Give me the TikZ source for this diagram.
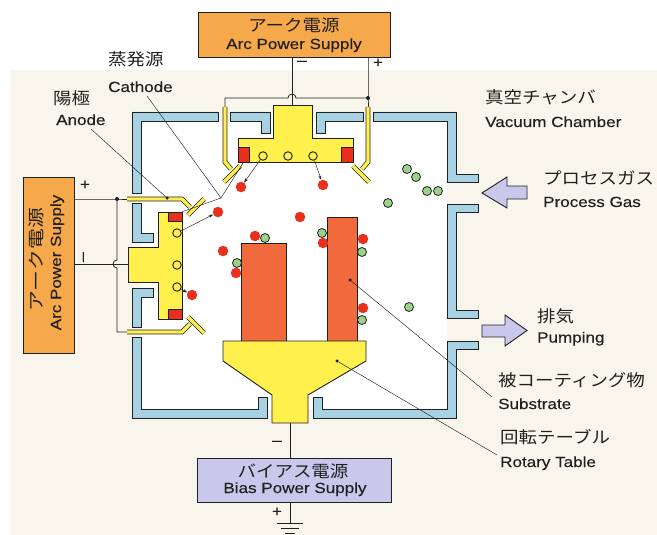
\documentclass[tikz,border=0pt]{standalone}
\usepackage{fontspec}
\setmainfont{Liberation Sans}[FakeStretch=1.16, FakeBold=0.35]
\newfontfamily\jp{Noto Sans CJK JP}[FakeStretch=1.12]
\usetikzlibrary{arrows.meta}

\definecolor{arcorange}{HTML}{F5A94A}
\definecolor{wallblue}{HTML}{A6D2E4}
\definecolor{cathyellow}{HTML}{FFF04E}
\definecolor{hotred}{HTML}{E8301C}
\definecolor{subred}{HTML}{F06A3E}
\definecolor{gasgreen}{HTML}{9CD487}
\definecolor{lav}{HTML}{C9C7EC}
\definecolor{cream}{HTML}{F8F6EC}
\definecolor{ink}{HTML}{202020}

\begin{document}
\begin{tikzpicture}[x=1pt,y=-1pt,
  wall/.style={fill=wallblue, draw=ink, line width=0.9pt},
  yel/.style={fill=cathyellow, draw=ink, line width=0.9pt},
  wire/.style={draw=ink, line width=0.8pt},
  lead/.style={draw=ink, line width=0.45pt},
  emit/.style={lead, -{Stealth[length=4.5pt,width=3pt]}},
  anodebar/.style={draw=ink, line width=0.7pt, double=cathyellow, double distance=3.4pt},
  supply/.style={draw=ink, line width=0.9pt, inner sep=0, rectangle},
  redblock/.style={rectangle, fill=hotred, draw=ink, line width=0.5pt, inner sep=0},
  redp/.style={circle, fill=hotred, minimum size=10.5pt, inner sep=0},
  greenp/.style={circle, fill=gasgreen, draw=ink, line width=0.8pt, minimum size=9pt, inner sep=0},
  spot/.style={circle, fill=cathyellow, draw=ink, line width=0.9pt, minimum size=8.5pt, inner sep=0},
  dotn/.style={circle, fill=ink, inner sep=0, minimum size=3.5pt},
  jdot/.style={circle, fill=ink, inner sep=0, minimum size=4pt},
  jptext/.style={font=\jp\fontsize{16.5}{18}\selectfont, text=ink, inner sep=0},
  entext/.style={font=\fontsize{14.7}{16}\selectfont, text=ink, inner sep=0},
  signtext/.style={font=\fontsize{15}{16}\selectfont, text=ink, inner sep=0},
  flow/.style={fill=lav, draw=ink, line width=0.9pt, line join=miter}
]
\useasboundingbox (0,0) rectangle (657,535);

% backdrop and chamber interior
\fill[cream] (10,70) rectangle (657,535);
\fill[white] (141,121) rectangle (447,409);

% chamber walls
\filldraw[wall] (132,112) -- (218,112) -- (218,121) -- (141,121) -- (141,193) -- (132,193) -- cycle;
\filldraw[wall] (230,112) -- (270,112) -- (270,133) -- (261,133) -- (261,121) -- (230,121) -- cycle;
\filldraw[wall] (316,112) -- (363,112) -- (363,121) -- (325,121) -- (325,133) -- (316,133) -- cycle;
\filldraw[wall] (373,112) -- (456,112) -- (456,174) -- (478,174) -- (478,182) -- (447,182) -- (447,121) -- (373,121) -- cycle;
\filldraw[wall] (447,204) -- (478,204) -- (478,212) -- (456,212) -- (456,310) -- (478,310) -- (478,318) -- (447,318) -- cycle;
\filldraw[wall] (447,341) -- (478,341) -- (478,349) -- (456,349) -- (456,418) -- (313,418) -- (313,397) -- (322,397) -- (322,409) -- (447,409) -- cycle;
\filldraw[wall] (132,337) -- (141,337) -- (141,409) -- (258,409) -- (258,397) -- (267,397) -- (267,418) -- (132,418) -- cycle;
\filldraw[wall] (132,203) -- (141,203) -- (141,233) -- (153,233) -- (153,242) -- (132,242) -- cycle;
\filldraw[wall] (132,288) -- (153,288) -- (153,297) -- (141,297) -- (141,327) -- (132,327) -- cycle;

% gas inlet and pumping arrows
\filldraw[flow] (482,193) -- (507,177) -- (507,186) -- (527,186) -- (527,199) -- (507,199) -- (507,208) -- cycle;
\filldraw[flow] (482,325) -- (505,325) -- (505,315) -- (527,330.5) -- (505,346) -- (505,337) -- (482,337) -- cycle;

% power supplies
\node[supply, fill=arcorange, minimum width=192pt, minimum height=45pt] (arcTop) at (294,34.5) {};
\node[jptext, anchor=base] (arcTopJ) at (294,32) {アーク電源};
\node[entext, anchor=base] (arcTopE) at (294,49) {Arc Power Supply};

\node[supply, fill=arcorange, minimum width=51pt, minimum height=176pt] (arcLeft) at (48.5,265) {};
\node[jptext, anchor=base, rotate=90] (arcLeftJ) at (42,259.5) {\scalebox{1.13}[1]{アーク電源}};
\node[entext, anchor=base, rotate=90] (arcLeftE) at (61,262.5) {Arc Power Supply};

\node[supply, fill=lav, minimum width=194pt, minimum height=44pt] (bias) at (294,480) {};
\node[jptext, anchor=base] (biasJ) at (293,477) {バイアス電源};
\node[entext, anchor=base] (biasE) at (295,493) {Bias Power Supply};

% wiring points
\coordinate (jTop) at (368,98);
\coordinate (aTL) at (225,98);
\coordinate (tcTop) at (292,105);
\coordinate (jL) at (117,199);
\coordinate (aL1) at (127,199);
\coordinate (aL2) at (127,332);
\coordinate (lcTip) at (128,264);
\coordinate (neckB) at (290,423);
\coordinate (gnd) at (290,523);

% top arc supply wiring
\draw[wire] (arcTop.south -| tcTop) -- (tcTop);
\draw[wire] (arcTop.south -| jTop) -- (jTop) -- (368,107);
\draw[wire] (jTop) -- (296,98) arc[start angle=0, end angle=180, radius=4pt] -- (aTL) -- (225,107);
\node[jdot] (jTopDot) at (jTop) {};

% left arc supply wiring
\draw[wire] (arcLeft.east |- jL) -- (jL) -- (aL1);
\draw[wire] (jL) -- (117,260) arc[start angle=90, end angle=270, radius=4pt] -- (117,332) -- (aL2);
\draw[wire] (arcLeft.east |- lcTip) -- (lcTip);
\node[jdot] (jLDot) at (jL) {};

% bias supply wiring and ground
\draw[wire] (neckB) -- (bias.north -| neckB);
\draw[wire] (bias.south -| gnd) -- (gnd);
\draw[wire] (277,523) -- (303,523);
\draw[wire] (281,528) -- (299,528);
\draw[wire] (285,533) -- (295,533);

% polarity marks
\node[signtext] (mTop) at (302,63) {–};
\node[signtext] (pTop) at (378,63) {+};
\node[signtext] (pLeft) at (85,185) {+};
\node[signtext, rotate=90] (mLeft) at (85,257) {–};
\node[signtext] (mBias) at (277,443) {–};
\node[signtext] (pBias) at (277,512) {+};

% anodes
\draw[anodebar] (225,107) -- (225,162) -- (231,169);
\draw[anodebar] (224,182) -- (240,166);
\draw[anodebar] (368,107) -- (368,162) -- (362,169);
\draw[anodebar] (353,166) -- (369,182);
\draw[anodebar] (aL1) -- (182,199) -- (190,207);
\draw[anodebar] (188,215) -- (204,199);
\draw[anodebar] (aL2) -- (182,332) -- (190,324);
\draw[anodebar] (188,317) -- (204,333);

% cathodes
\filldraw[yel] (273,105) -- (312,105) -- (312,138) -- (353,138) -- (353,162) -- (238,162) -- (238,138) -- (273,138) -- cycle;
\node[redblock, minimum width=11pt, minimum height=15pt] (rt1) at (243.5,154.5) {};
\node[redblock, minimum width=12pt, minimum height=15pt] (rt2) at (347,154.5) {};
\node[spot] (s1) at (263,156) {};
\node[spot] (s2) at (288,156) {};
\node[spot] (s3) at (313,156) {};

\filldraw[yel] (158,212) -- (182,212) -- (182,319) -- (158,319) -- (158,282) -- (128,282) -- (128,247) -- (158,247) -- cycle;
\node[redblock, minimum width=14pt, minimum height=9pt] (rl1) at (175,216.5) {};
\node[redblock, minimum width=14pt, minimum height=10pt] (rl2) at (175,314) {};
\node[spot] (l1) at (177,233) {};
\node[spot] (l2) at (177,265) {};
\node[spot] (l3) at (177,287) {};

% substrates and rotary table
\filldraw[fill=subred, draw=ink, line width=0.9pt] (241,243) rectangle (286,341);
\filldraw[fill=subred, draw=ink, line width=0.9pt] (327,217) rectangle (357,341);
\filldraw[yel] (223,341) -- (366,341) -- (366,361) -- (308,395) -- (308,423) -- (272,423) -- (272,395) -- (223,361) -- cycle;

% evaporated metal ions
\node[redp] (r1) at (241,187) {};
\node[redp] (r2) at (323,185) {};
\node[redp] (r3) at (218,212) {};
\node[redp] (r4) at (300,217) {};
\node[redp] (r5) at (255,236) {};
\node[redp] (r6) at (223,251) {};
\node[redp] (r7) at (236,273) {};
\node[redp] (r8) at (323,243) {};
\node[redp] (r9) at (363,239) {};
\node[redp] (r10) at (363,308) {};
\node[redp] (r11) at (192,295) {};

% process gas molecules
\node[greenp] (g1) at (265,238) {};
\node[greenp] (g2) at (237,263) {};
\node[greenp] (g3) at (322,233) {};
\node[greenp] (g4) at (362,252) {};
\node[greenp] (g5) at (362,320) {};
\node[greenp] (g6) at (388,203) {};
\node[greenp] (g7) at (407,169) {};
\node[greenp] (g8) at (416,177) {};
\node[greenp] (g9) at (427,191) {};
\node[greenp] (g10) at (438,191) {};
\node[greenp] (g11) at (409,307) {};

% emission from arc spots
\draw[emit] (s1) -- (r1);
\draw[emit] (s3) -- (r2);
\draw[emit] (l1) -- (r3);
\draw[emit] (l3) -- (r11);

% labels
\node[jptext, anchor=base west] (vacJ) at (485,104) {真空チャンバ};
\node[entext, anchor=base west] (vacE) at (485,127) {Vacuum Chamber};
\node[jptext, anchor=base west] (gasJ) at (543,184) {プロセスガス};
\node[entext, anchor=base west] (gasE) at (543,207) {Process Gas};
\node[jptext, anchor=base west] (pumpJ) at (537,322) {排気};
\node[entext, anchor=base west] (pumpE) at (537,342.5) {Pumping};
\node[jptext, anchor=base west] (subJ) at (498,386) {被コーティング物};
\node[entext, anchor=base west] (subE) at (498,409) {Substrate};
\node[jptext, anchor=base west] (rotJ) at (500,443) {回転テーブル};
\node[entext, anchor=base west] (rotE) at (500,467) {Rotary Table};
\node[jptext, anchor=base west] (cathJ) at (108,66) {蒸発源};
\node[entext, anchor=base west] (cathE) at (108,92) {Cathode};
\node[jptext, anchor=base west] (anoJ) at (53,105) {陽極};
\node[entext, anchor=base west] (anoE) at (56,125) {Anode};

% leader lines
\coordinate (cathFrom) at (147,96);
\coordinate (cathTip) at (221,198);
\draw[lead] (cathFrom) -- (cathTip) -- (rt1.south);
\draw[lead] (cathTip) -- (rl1.north east);
\coordinate (anoFrom) at (91,129);
\node[dotn] (anoDot) at (167,198) {};
\draw[lead] (anoFrom) -- (anoDot);
\node[dotn] (subDot) at (350,280) {};
\coordinate (subTo) at (492,397);
\draw[lead] (subDot) -- (subTo);
\node[dotn] (rotDot) at (337,361) {};
\coordinate (rotTo) at (497,455);
\draw[lead] (rotDot) -- (rotTo);
\end{tikzpicture}
\end{document}
